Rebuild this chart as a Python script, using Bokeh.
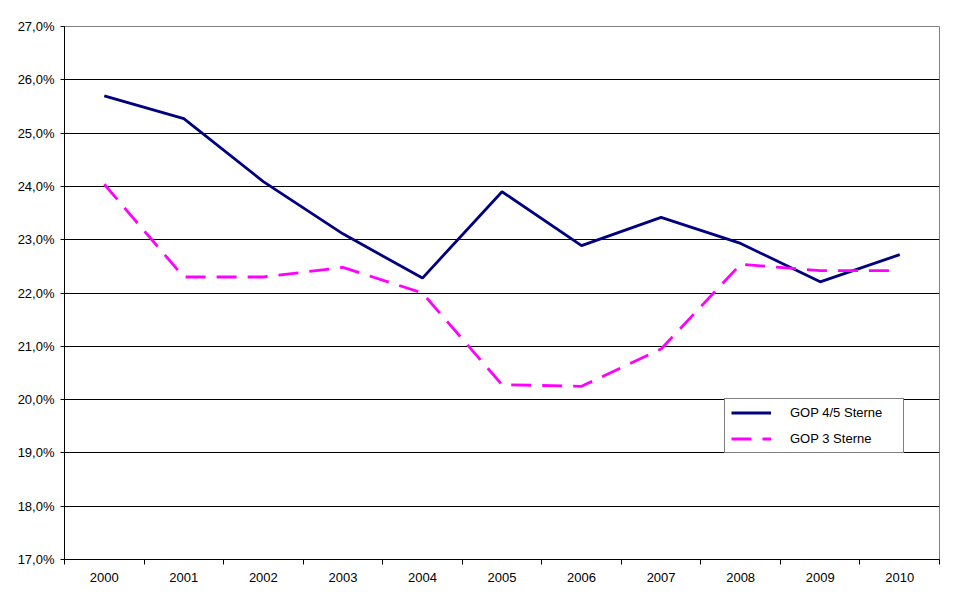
from bokeh.plotting import figure
from bokeh.models import (Range1d, FixedTicker, CustomJSTickFormatter, Legend, LegendItem)
from bokeh.embed import file_html
from bokeh.resources import INLINE

years = ["2000", "2001", "2002", "2003", "2004", "2005", "2006", "2007", "2008", "2009", "2010"]
gop45 = [25.70, 25.27, 24.09, 23.11, 22.28, 23.90, 22.89, 23.42, 22.93, 22.21, 22.72]
gop3 = [24.04, 22.30, 22.30, 22.48, 22.00, 20.28, 20.25, 20.95, 22.54, 22.42, 22.42]
y_ticks = [17, 18, 19, 20, 21, 22, 23, 24, 25, 26, 27]
series_names = ["GOP 4/5 Sterne", "GOP 3 Sterne"]

FONT = "Liberation Sans"

p = figure(width=955, height=589, output_backend="svg", toolbar_location=None,
           x_range=Range1d(0, len(years)), y_range=Range1d(y_ticks[0], y_ticks[-1]),
           min_border_left=64, min_border_right=16, min_border_top=26, min_border_bottom=30)
p.background_fill_color = "white"
p.border_fill_color = "white"
p.outline_line_color = "#808080"
p.outline_line_width = 1

xs = [i + 0.5 for i in range(len(years))]

l1 = p.line(xs, gop45, line_color="#000080", line_width=2.8)
l2 = p.line(xs, gop3, line_color="#FF00FF", line_width=2.8, line_dash="20 11")

# X axis: labels centered in categories, ticks between categories
p.xaxis.ticker = FixedTicker(ticks=xs, minor_ticks=list(range(len(years) + 1)))
p.xaxis.major_label_overrides = {x: y for x, y in zip(xs, years)}
p.xaxis.major_tick_line_color = None
p.xaxis.minor_tick_line_color = "black"
p.xaxis.minor_tick_out = 5
p.xaxis.minor_tick_in = 0
p.xaxis.axis_line_color = "black"
p.xaxis.major_label_standoff = 7
p.xaxis.major_label_text_font = FONT
p.xaxis.major_label_text_font_size = "13px"
p.xaxis.major_label_text_color = "black"

# Y axis
p.yaxis.ticker = FixedTicker(ticks=y_ticks)
p.yaxis.formatter = CustomJSTickFormatter(code="return tick.toFixed(1).replace('.', ',') + '%';")
p.yaxis.major_tick_line_color = "black"
p.yaxis.major_tick_out = 4
p.yaxis.major_tick_in = 0
p.yaxis.minor_tick_line_color = None
p.yaxis.axis_line_color = "black"
p.yaxis.major_label_standoff = 6
p.yaxis.major_label_text_font = FONT
p.yaxis.major_label_text_font_size = "13px"
p.yaxis.major_label_text_color = "black"

p.xgrid.grid_line_color = None
p.ygrid.ticker = FixedTicker(ticks=y_ticks[1:-1])
p.ygrid.grid_line_color = "black"
p.ygrid.grid_line_width = 1

legend = Legend(items=[LegendItem(label=series_names[0], renderers=[l1]),
                       LegendItem(label=series_names[1], renderers=[l2])],
                location=(660, 106))
legend.border_line_color = "black"
legend.border_line_width = 1
legend.background_fill_color = "white"
legend.background_fill_alpha = 1
legend.padding = 6
legend.spacing = 11
legend.glyph_width = 40
legend.glyph_height = 15
legend.label_height = 15
legend.label_width = 107
legend.label_standoff = 19
legend.margin = 0
legend.label_text_font = FONT
legend.label_text_font_size = "13px"
legend.label_text_color = "black"
p.add_layout(legend)

open("out.html", "w").write(file_html(p, INLINE))
